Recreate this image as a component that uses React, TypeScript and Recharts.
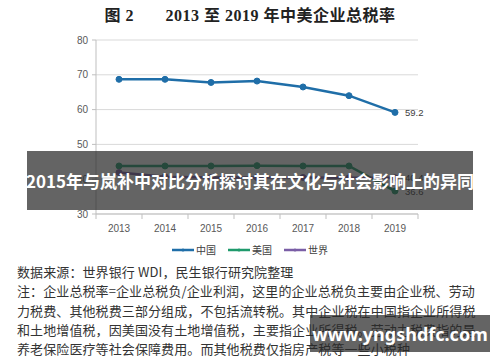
import React from "react";
import { LineChart, Line, XAxis, YAxis, CartesianGrid, LabelList } from "recharts";

const years = ["2013", "2014", "2015", "2016", "2017", "2018", "2019"];
const china = [68.7, 68.7, 67.8, 68.2, 66.5, 64.0, 59.2];
const usa = [43.8, 43.8, 43.8, 43.9, 43.8, 43.8, 36.6];
const world = [41.9, 40.7, 40.5, 40.5, 40.5, 40.4, 40.4];
const yTicks = [30, 40, 50, 60, 70, 80];
const seriesNames = ["中国", "美国", "世界"];
const seriesColors = ["#1f6ea8", "#1f9a6c", "#7a5ea6"];

const titleLabel = "图 2";
const titleText = "2013 至 2019 年中美企业总税率";
const bannerText = "2015年与岚补中对比分析探讨其在文化与社会影响上的异同";
const watermark = "www.yngshdfc.com";
const notes = [
  "数据来源：世界银行 WDI，民生银行研究院整理",
  "注：企业总税率=企业总税负/企业利润，这里的企业总税负主要由企业税、劳动",
  "力税费、其他税费三部分组成，不包括流转税。其中企业税在中国指企业所得税",
  "和土地增值税，因美国没有土地增值税，主要指企业所得税。劳动力税费指的是",
  "养老保险医疗等社会保障费用。而其他税费仅指房产税等一些小税种",
];

const data = years.map((y, i) => ({ year: y, china: china[i], usa: usa[i], world: world[i] }));
const keys = ["china", "usa", "world"];

const W = 500;
const H = 262;
const M = { top: 40, right: 82, bottom: 18, left: 56 };
const YW = 40;
const half = (W - M.left - YW - M.right) / years.length / 2;

const XTick = (props: any) => {
  const { x, y, payload, index } = props;
  return (
    <g>
      <line x1={x - half} x2={x - half} y1={y - 8} y2={y - 3} stroke="#bfbfbf" />
      {index === years.length - 1 && (
        <line x1={x + half} x2={x + half} y1={y - 8} y2={y - 3} stroke="#bfbfbf" />
      )}
      <text x={x} y={y + 10} textAnchor="middle" fontSize={10} fill="#595959" fontFamily="'Liberation Sans', Arial, sans-serif">
        {payload.value}
      </text>
    </g>
  );
};

const lastLabel = (props: any) => {
  const { x, y, value, index } = props;
  if (index !== years.length - 1) return null;
  return (
    <text x={x + 10} y={y + 3.5} fontSize={9.5} fill="#404040" fontFamily="'Liberation Sans', Arial, sans-serif">
      {value}
    </text>
  );
};

export default function App() {
  return (
    <div style={{ position: "absolute", left: 0, top: 0, width: 500, height: 362, overflow: "hidden", background: "#fff" }}>
      <div
        style={{
          position: "absolute",
          left: 0,
          top: 6,
          width: 500,
          textAlign: "center",
          fontFamily: "'Liberation Serif', 'Noto Sans CJK SC', serif",
          fontWeight: "bold",
          fontSize: 16,
          letterSpacing: 0.5,
          color: "#222",
          whiteSpace: "pre",
          lineHeight: "20px",
        }}
      >
        {titleLabel + "       " + titleText}
      </div>
      <div style={{ position: "absolute", left: 0, top: 0 }}>
        <LineChart width={W} height={H} data={data} margin={M}>
          <CartesianGrid vertical={false} stroke="#d9d9d9" />
          <XAxis
            dataKey="year"
            scale="band"
            axisLine={{ stroke: "#bfbfbf" }}
            tickLine={false}
            tick={<XTick />}
            height={30}
            interval={0}
          />
          <YAxis
            domain={[30, 80]}
            ticks={yTicks}
            width={YW}
            axisLine={{ stroke: "#bfbfbf" }}
            tickLine={{ stroke: "#bfbfbf" }}
            tickSize={4}
            tickMargin={4}
            tick={{ fontSize: 10, fill: "#595959", fontFamily: "'Liberation Sans', Arial, sans-serif" }}
          />
          {keys.map((k, i) => (
            <Line
              key={k}
              dataKey={k}
              stroke={seriesColors[i]}
              strokeWidth={2.5}
              dot={{ r: 3, fill: seriesColors[i], stroke: seriesColors[i], strokeWidth: 1 }}
              isAnimationActive={false}
            >
              <LabelList dataKey={k} content={lastLabel} />
            </Line>
          ))}
        </LineChart>
      </div>
      <div
        style={{
          position: "absolute",
          left: 0,
          top: 243,
          width: 500,
          display: "flex",
          justifyContent: "center",
          gap: 12,
          fontFamily: "'Noto Sans CJK SC', sans-serif",
          fontSize: 10,
          color: "#404040",
          lineHeight: "14px",
        }}
      >
        {seriesNames.map((n, i) => (
          <div key={n} style={{ display: "flex", alignItems: "center" }}>
            <svg width={24} height={8}>
              <line x1={0} x2={22} y1={4} y2={4} stroke={seriesColors[i]} strokeWidth={2.5} />
              <circle cx={11} cy={4} r={1.5} fill={seriesColors[i]} />
            </svg>
            <span>{n}</span>
          </div>
        ))}
      </div>
      <div
        style={{
          position: "absolute",
          left: 27,
          top: 151,
          width: 446,
          height: 59,
          background: "rgba(40,40,40,0.72)",
          color: "#fff",
          fontFamily: "'Noto Sans CJK SC', sans-serif",
          fontWeight: "bold",
          fontSize: 17,
          display: "flex",
          alignItems: "center",
          justifyContent: "center",
          whiteSpace: "nowrap",
        }}
      >
        {bannerText}
      </div>
      {notes.map((t, i) => (
        <div
          key={i}
          style={{
            position: "absolute",
            left: 17,
            top: 262 + i * 19.3,
            fontFamily: "'Noto Sans CJK SC', sans-serif",
            fontSize: 13,
            letterSpacing: 0.1,
            color: "#333",
            whiteSpace: "nowrap",
            lineHeight: "19px",
          }}
        >
          {t}
        </div>
      ))}
      <div
        style={{
          position: "absolute",
          left: 310,
          top: 315,
          width: 180,
          height: 37,
          background: "rgba(40,40,40,0.72)",
          color: "#fff",
          fontFamily: "'Noto Sans', 'Liberation Sans', sans-serif",
          fontWeight: "bold",
          fontSize: 18,
          display: "flex",
          alignItems: "center",
          justifyContent: "center",
          whiteSpace: "nowrap",
        }}
      >
        {watermark}
      </div>
    </div>
  );
}
